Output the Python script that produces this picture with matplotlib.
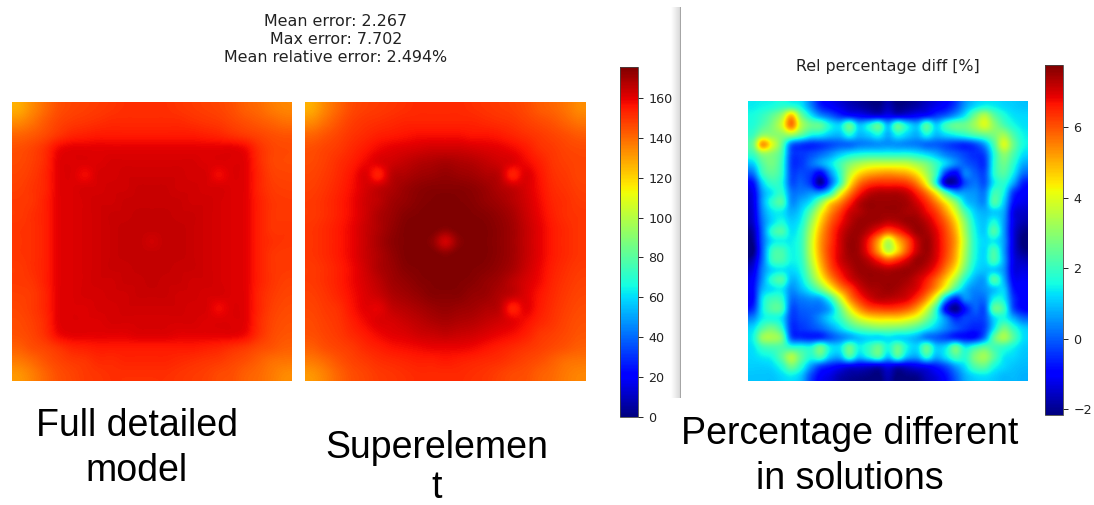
import numpy as np
import matplotlib
matplotlib.use('Agg')
import matplotlib.pyplot as plt

W, H = 1094, 505

stats_lines = ['Mean error: 2.267', 'Max error: 7.702', 'Mean relative error: 2.494%']
diff_title = 'Rel percentage diff [%]'
temp_ticks = [0, 20, 40, 60, 80, 100, 120, 140, 160]
diff_ticks = [-2, 0, 2, 4, 6]
temp_range = (0, 175.5)
diff_range = (-2.17, 7.76)

# temperature (coarse grid, rows top to bottom)
full_model = [
    [128, 134, 140, 145, 147, 148, 149, 150, 151, 151, 151, 151, 150, 149, 148, 147, 145, 142, 140, 137, 135],
    [134, 138, 143, 147, 149, 150, 151, 152, 152, 152, 152, 152, 152, 151, 150, 149, 147, 145, 143, 141, 139],
    [141, 143, 146, 150, 153, 154, 155, 155, 155, 155, 155, 155, 155, 155, 154, 153, 151, 149, 147, 145, 144],
    [145, 147, 151, 158, 160, 160, 160, 160, 160, 160, 160, 160, 160, 160, 160, 160, 160, 158, 151, 147, 146],
    [146, 148, 152, 160, 161, 161, 161, 162, 162, 162, 162, 162, 162, 162, 161, 161, 161, 160, 152, 147, 146],
    [147, 149, 153, 160, 161, 158, 162, 162, 163, 163, 163, 163, 163, 162, 162, 158, 161, 160, 153, 148, 147],
    [148, 150, 153, 160, 161, 162, 162, 163, 163, 164, 164, 164, 163, 163, 162, 162, 161, 160, 153, 149, 148],
    [149, 150, 154, 160, 161, 162, 163, 163, 164, 164, 164, 164, 164, 163, 163, 162, 161, 160, 154, 150, 149],
    [149, 151, 154, 160, 161, 162, 163, 164, 164, 165, 165, 165, 164, 164, 163, 162, 161, 160, 154, 150, 149],
    [150, 151, 154, 160, 161, 162, 163, 164, 165, 165, 165, 165, 165, 164, 163, 162, 161, 160, 154, 150, 150],
    [150, 151, 154, 160, 161, 162, 163, 164, 165, 165, 163, 165, 165, 164, 163, 162, 161, 160, 154, 151, 150],
    [150, 151, 154, 160, 161, 162, 163, 164, 165, 165, 165, 165, 165, 164, 163, 162, 161, 160, 154, 150, 149],
    [149, 151, 154, 160, 161, 162, 163, 164, 164, 165, 165, 165, 164, 164, 163, 162, 161, 160, 154, 150, 149],
    [149, 150, 154, 160, 161, 162, 163, 163, 164, 164, 165, 164, 164, 163, 163, 162, 161, 160, 154, 150, 148],
    [148, 149, 153, 160, 161, 162, 162, 163, 163, 164, 164, 164, 163, 163, 162, 162, 161, 160, 153, 149, 147],
    [147, 149, 153, 160, 161, 161, 162, 162, 163, 163, 163, 163, 163, 162, 162, 158, 161, 160, 153, 148, 146],
    [146, 148, 152, 160, 161, 161, 161, 162, 162, 162, 162, 162, 162, 162, 161, 161, 161, 160, 152, 147, 145],
    [145, 147, 151, 158, 160, 160, 160, 160, 160, 161, 161, 161, 160, 160, 160, 160, 160, 158, 151, 146, 144],
    [142, 145, 147, 150, 153, 154, 155, 155, 155, 155, 155, 155, 155, 155, 154, 153, 151, 149, 146, 144, 142],
    [137, 140, 144, 147, 149, 150, 152, 152, 153, 153, 153, 153, 152, 151, 150, 149, 147, 145, 142, 139, 138],
    [132, 136, 141, 145, 147, 149, 150, 151, 151, 151, 151, 151, 150, 149, 148, 146, 145, 142, 140, 137, 134],
]

# same grid for the superelement panel
super_model = [
    [128, 135, 141, 146, 148, 149, 150, 151, 152, 152, 152, 152, 151, 150, 149, 148, 146, 143, 141, 138, 134],
    [134, 139, 144, 148, 150, 151, 152, 153, 153, 153, 153, 153, 153, 152, 151, 150, 148, 146, 144, 141, 138],
    [141, 144, 147, 150, 152, 154, 155, 156, 157, 157, 157, 157, 156, 156, 155, 153, 151, 149, 147, 145, 143],
    [145, 147, 149, 152, 155, 158, 160, 161, 162, 163, 163, 163, 162, 161, 160, 158, 155, 151, 149, 147, 146],
    [146, 148, 151, 154, 158, 161, 163, 165, 167, 168, 169, 168, 167, 165, 163, 161, 158, 154, 150, 148, 147],
    [147, 149, 152, 156, 161, 154, 166, 168, 170, 171, 172, 171, 170, 168, 166, 154, 161, 156, 151, 149, 147],
    [148, 150, 153, 157, 162, 165, 168, 171, 173, 174, 174, 174, 173, 171, 168, 165, 162, 157, 152, 150, 148],
    [149, 151, 154, 158, 163, 166, 170, 172, 174, 175, 176, 175, 174, 172, 170, 167, 163, 158, 153, 151, 149],
    [149, 151, 154, 158, 163, 168, 171, 174, 175, 176, 176, 176, 175, 174, 172, 169, 164, 159, 154, 151, 150],
    [150, 152, 155, 159, 164, 168, 172, 175, 176, 176, 174, 176, 176, 175, 173, 170, 165, 160, 155, 152, 150],
    [150, 152, 155, 159, 164, 169, 173, 175, 176, 173, 163, 173, 176, 175, 173, 170, 165, 160, 155, 152, 150],
    [150, 152, 155, 159, 164, 168, 172, 175, 176, 176, 174, 176, 176, 175, 173, 170, 165, 160, 155, 152, 150],
    [149, 151, 154, 158, 163, 168, 171, 174, 175, 176, 176, 176, 175, 174, 172, 169, 164, 159, 154, 151, 149],
    [149, 151, 154, 158, 162, 166, 170, 172, 174, 175, 176, 175, 174, 172, 170, 166, 162, 158, 153, 150, 148],
    [148, 150, 153, 157, 161, 164, 168, 170, 172, 174, 174, 174, 172, 171, 168, 165, 161, 156, 152, 149, 147],
    [147, 149, 151, 156, 160, 160, 165, 167, 169, 171, 172, 171, 170, 168, 166, 154, 160, 155, 151, 148, 146],
    [146, 148, 150, 154, 158, 161, 162, 164, 166, 168, 169, 168, 167, 165, 163, 160, 157, 153, 150, 147, 145],
    [145, 147, 149, 152, 155, 158, 160, 161, 163, 164, 165, 164, 163, 161, 159, 157, 154, 150, 148, 146, 144],
    [142, 145, 147, 149, 152, 154, 156, 157, 158, 159, 159, 159, 158, 156, 154, 152, 150, 148, 146, 144, 142],
    [137, 140, 144, 147, 149, 151, 152, 153, 154, 154, 155, 154, 153, 152, 151, 149, 147, 145, 142, 139, 138],
    [132, 136, 141, 145, 147, 149, 150, 151, 152, 152, 152, 152, 151, 150, 148, 146, 145, 142, 140, 137, 135],
]

# relative difference in percent, finer grid because of the small spots
rel_diff = [
    [1.4, 1.5, 1.6, 1.8, 1.8, 1.4, 0.4, -0.6, -1.0, -1.3, -1.6, -1.8, -2.0, -2.1, -1.7, -2.1, -2.0, -1.8, -1.5, -1.2, -0.9, -0.3, 0.6, 1.2, 1.5, 1.4, 1.2, 1.1, 1.0],
    [1.6, 1.9, 2.4, 3.2, 4.8, 2.7, 1.4, 0.5, 0.0, -0.5, -0.8, -1.0, -1.2, -1.3, -1.1, -1.3, -1.2, -1.0, -0.8, -0.4, 0.0, 0.6, 1.4, 2.6, 3.4, 2.4, 1.7, 1.3, 1.2],
    [1.7, 2.2, 2.8, 3.8, 5.6, 3.5, 2.6, 2.4, 1.5, 1.2, 2.4, 1.0, 1.5, 2.3, 0.9, 2.3, 1.4, 0.9, 2.2, 1.1, 2.0, 2.5, 2.6, 3.2, 3.9, 3.0, 2.2, 1.6, 1.3],
    [2.0, 3.0, 3.0, 3.0, 3.2, 2.4, 1.6, 1.4, 1.0, 0.9, 1.6, 0.9, 1.1, 1.5, 0.8, 1.5, 1.1, 0.8, 1.5, 0.9, 1.2, 1.5, 1.8, 2.2, 2.5, 2.8, 3.2, 2.2, 1.5],
    [2.6, 5.2, 4.0, 2.5, 0.2, -0.3, -0.5, -0.4, -0.2, 0.0, 0.1, 0.3, 0.4, 0.5, 0.5, 0.5, 0.4, 0.3, 0.1, 0.0, -0.2, -0.4, -0.5, -0.2, 0.6, 2.2, 3.9, 2.6, 1.6],
    [2.0, 3.0, 2.9, 2.1, -0.2, -0.4, -0.2, 0.1, 0.5, 1.0, 1.4, 1.6, 1.7, 1.7, 1.7, 1.7, 1.7, 1.5, 1.2, 0.8, 0.3, 0.0, -0.3, -0.5, -0.2, 1.7, 3.0, 2.2, 1.3],
    [1.1, 2.3, 2.7, 1.9, -0.3, -0.4, 0.1, 0.6, 1.2, 2.0, 2.8, 3.3, 3.6, 3.7, 3.7, 3.7, 3.6, 3.2, 2.7, 1.9, 1.1, 0.4, 0.0, -0.3, -0.4, 1.7, 2.6, 1.8, 0.8],
    [0.2, 1.9, 2.4, 1.8, -0.2, -0.2, -0.4, -1.0, 0.4, 1.8, 3.5, 4.5, 5.0, 5.2, 5.3, 5.2, 5.0, 4.4, 3.3, 1.9, -0.4, -1.0, 0.3, 0.0, -0.2, 1.7, 2.3, 1.4, 0.2],
    [-0.8, 1.1, 1.9, 1.6, -0.1, 0.0, -0.5, -1.9, -0.1, 1.8, 4.2, 5.6, 6.2, 6.4, 6.4, 6.4, 6.2, 5.5, 4.1, 1.6, -1.5, -1.6, -0.2, 0.2, -0.1, 1.4, 1.8, 0.7, -0.6],
    [-1.2, 0.6, 1.4, 1.8, 0.3, 0.3, 0.5, 0.6, 1.6, 3.8, 5.4, 6.5, 7.1, 7.3, 7.3, 7.3, 7.1, 6.5, 5.6, 4.2, 2.2, 0.8, 0.6, 0.5, 0.3, 2.0, 1.5, -0.4, -1.0],
    [-1.3, 0.6, 1.8, 2.2, 0.5, 0.8, 1.4, 2.8, 4.4, 5.4, 6.4, 7.2, 7.5, 7.5, 7.5, 7.5, 7.4, 7.0, 6.4, 5.5, 4.3, 2.9, 1.2, 0.7, 0.5, 2.2, 1.1, -0.8, -1.2],
    [-1.4, 0.4, 1.3, 1.4, 0.8, 1.2, 2.4, 4.0, 5.3, 6.2, 7.0, 7.3, 7.5, 7.5, 7.5, 7.5, 7.4, 7.3, 6.8, 6.2, 5.2, 3.9, 2.2, 1.1, 0.8, 1.1, 0.7, -1.2, -1.5],
    [-1.5, 0.2, 1.2, 1.6, 1.1, 1.5, 3.0, 4.6, 5.8, 6.6, 7.2, 7.5, 7.5, 7.4, 7.2, 7.3, 7.5, 7.5, 7.2, 6.6, 5.8, 4.6, 2.9, 1.4, 1.0, 1.6, 0.6, -1.2, -1.7],
    [-1.8, 0.1, 1.8, 2.2, 1.3, 1.8, 3.4, 5.0, 6.1, 6.9, 7.4, 7.5, 7.2, 6.6, 6.0, 6.4, 7.0, 7.5, 7.4, 6.9, 6.1, 5.0, 3.2, 1.6, 1.1, 2.2, 0.6, -1.3, -2.0],
    [-2.0, 0.0, 1.3, 1.5, 1.4, 1.9, 3.6, 5.2, 6.2, 7.0, 7.5, 7.4, 6.6, 5.2, 3.6, 4.9, 6.0, 7.1, 7.5, 7.0, 6.2, 5.2, 3.4, 1.7, 1.2, 1.4, 0.6, -1.3, -2.2],
    [-2.2, 0.0, 1.9, 2.1, 1.5, 1.9, 3.6, 5.2, 6.3, 7.0, 7.5, 7.4, 6.6, 5.2, 3.6, 4.6, 6.0, 7.1, 7.5, 7.0, 6.2, 5.1, 3.3, 1.7, 1.2, 2.1, 0.6, -1.3, -2.0],
    [-1.7, 0.1, 1.9, 2.1, 1.5, 1.8, 3.4, 5.0, 6.2, 7.0, 7.4, 7.5, 7.2, 6.6, 6.0, 6.4, 7.0, 7.5, 7.4, 6.9, 6.0, 4.9, 3.1, 1.6, 1.2, 2.1, 0.7, -1.2, -1.6],
    [-1.3, 0.3, 1.2, 1.4, 1.2, 1.6, 3.0, 4.6, 5.9, 6.7, 7.2, 7.5, 7.5, 7.4, 7.3, 7.4, 7.5, 7.4, 7.1, 6.5, 5.5, 4.3, 2.6, 1.3, 1.0, 1.1, 0.5, -1.2, -1.3],
    [-1.0, 0.5, 1.8, 2.2, 0.9, 1.3, 2.5, 3.9, 5.2, 6.2, 6.9, 7.3, 7.5, 7.5, 7.5, 7.5, 7.4, 7.1, 6.6, 5.8, 4.7, 3.3, 1.7, 0.8, 0.7, 2.2, 0.8, -1.0, -1.1],
    [-0.9, 0.8, 1.3, 1.4, 0.5, 0.9, 1.6, 2.6, 3.9, 5.2, 6.1, 6.9, 7.3, 7.4, 7.5, 7.4, 7.2, 6.9, 6.2, 5.2, 3.7, 2.0, 0.9, 0.4, 0.5, 1.0, 1.1, -0.7, -1.0],
    [-0.9, 1.3, 2.0, 1.8, 0.2, 0.3, 0.5, 0.7, 1.8, 3.6, 5.3, 6.3, 6.9, 7.2, 7.2, 7.1, 6.9, 6.3, 5.3, 3.6, 0.8, -0.6, 0.4, 0.2, 0.2, 1.5, 1.4, -0.4, -1.0],
    [-0.5, 1.4, 2.3, 2.1, -0.1, 0.0, 0.1, 0.2, 0.8, 2.4, 4.1, 5.3, 6.0, 6.2, 6.3, 6.2, 5.9, 5.2, 3.9, 1.9, -1.0, -2.0, -0.8, 0.0, -0.1, 2.4, 2.0, -0.2, -0.9],
    [0.4, 1.4, 1.6, 1.3, -0.3, -0.2, 0.0, 0.5, 1.2, 1.9, 3.0, 3.9, 4.4, 4.6, 4.6, 4.6, 4.3, 3.8, 2.8, 1.6, 0.4, -0.6, -0.3, -0.3, -0.2, 1.2, 1.6, 0.8, 0.1],
    [1.2, 2.2, 2.6, 1.8, -0.4, -0.4, -0.2, 0.1, 0.6, 1.2, 1.9, 2.4, 2.7, 2.9, 2.9, 2.8, 2.6, 2.2, 1.6, 1.0, 0.4, -0.1, -0.4, -0.6, -0.3, 1.3, 2.6, 1.8, 1.1],
    [1.5, 3.1, 3.3, 2.7, -0.1, -0.5, -0.6, -0.5, -0.1, 0.3, 0.7, 1.0, 1.2, 1.2, 1.3, 1.2, 1.1, 0.8, 0.3, 0.0, -0.3, -0.6, -0.8, -0.8, 0.2, 2.4, 3.3, 2.3, 1.3],
    [1.3, 2.0, 2.2, 2.2, 1.8, 1.7, 1.6, 2.5, 1.4, 1.3, 2.5, 1.5, 1.9, 2.5, 1.6, 2.5, 1.5, 1.2, 2.4, 1.1, 1.3, 2.5, 1.4, 1.9, 2.4, 2.1, 1.9, 1.5, 1.1],
    [1.2, 1.4, 1.6, 2.4, 3.4, 2.4, 1.7, 2.1, 1.0, 0.8, 2.0, 1.0, 1.5, 2.1, 1.0, 2.0, 0.9, 0.7, 1.7, 0.8, 1.3, 2.1, 1.8, 2.8, 3.2, 2.3, 1.4, 1.2, 1.0],
    [1.1, 1.1, 1.2, 1.7, 2.6, 1.8, 0.6, -0.3, -0.7, -1.0, -1.2, -1.3, -1.4, -1.5, -1.2, -1.5, -1.4, -1.2, -1.0, -0.7, -0.2, 0.6, 1.3, 2.2, 2.4, 1.6, 1.2, 1.0, 0.9],
    [1.0, 1.0, 1.0, 1.2, 1.4, 1.0, -0.2, -1.0, -1.3, -1.7, -1.9, -2.0, -2.1, -2.2, -1.7, -2.2, -2.1, -2.0, -1.6, -1.3, -0.8, 0.0, 0.8, 1.2, 1.3, 1.1, 0.9, 0.9, 0.8],
]

# caption text with its centre x and baseline y
captions = [
    ('Full detailed', 137, 436), ('model', 137, 481),
    ('Superelemen', 437, 458), ('t', 437, 498),
    ('Percentage different', 850, 444), ('in solutions', 850, 489),
]


def px_axes(fig, x0, y0, x1, y1):
    # axes from pixel box, y measured from the top
    return fig.add_axes([x0 / W, 1 - y1 / H, (x1 - x0) / W, (y1 - y0) / H])


def heat(fig, box, values, vrange):
    ax = px_axes(fig, *box)
    # catrom goes through the grid values, agg's bicubic smooths the spots away
    im = ax.imshow(np.array(values), cmap='jet', vmin=vrange[0], vmax=vrange[1],
                   interpolation='catrom', aspect='auto')
    ax.axis('off')
    return im


def colorbar(fig, im, box, ticks):
    cax = px_axes(fig, *box)
    cb = fig.colorbar(im, cax=cax, ticks=ticks)
    cb.outline.set_linewidth(0.6)
    cb.outline.set_edgecolor('#444444')
    cax.tick_params(labelsize=9.2, length=3.5, width=0.7, pad=4, colors='#222222')


def main():
    fig = plt.figure(figsize=(W / 100, H / 100), dpi=100)

    # screenshot seam between the two pasted figures
    seam = px_axes(fig, 671, 7, 681, 398)
    seam.imshow(np.linspace(1.0, 0.84, 40)[None, :], cmap='gray', vmin=0, vmax=1, aspect='auto')
    seam.axvline(39, color='#a6a6a6', lw=1.5)
    seam.axis('off')

    im1 = heat(fig, (12, 102, 292, 381), full_model, temp_range)
    heat(fig, (305, 102, 585, 381), super_model, temp_range)
    im3 = heat(fig, (748, 101, 1028, 381), rel_diff, diff_range)

    colorbar(fig, im1, (620, 67, 638, 417), temp_ticks)
    colorbar(fig, im3, (1045, 65, 1063, 415), diff_ticks)

    for line, y in zip(stats_lines, [22, 40, 58]):
        fig.text(336 / W, 1 - y / H, line, ha='center', va='center', fontsize=11.4, color='#222222')
    fig.text(888 / W, 1 - 66 / H, diff_title, ha='center', va='center', fontsize=11.4, color='#222222')

    for text, x, y in captions:
        fig.text(x / W, 1 - y / H, text, ha='center', va='baseline', fontsize=27,
                 family='Liberation Sans', color='black')

    fig.savefig('out.png', dpi=100)


if __name__ == "__main__":
    main()
